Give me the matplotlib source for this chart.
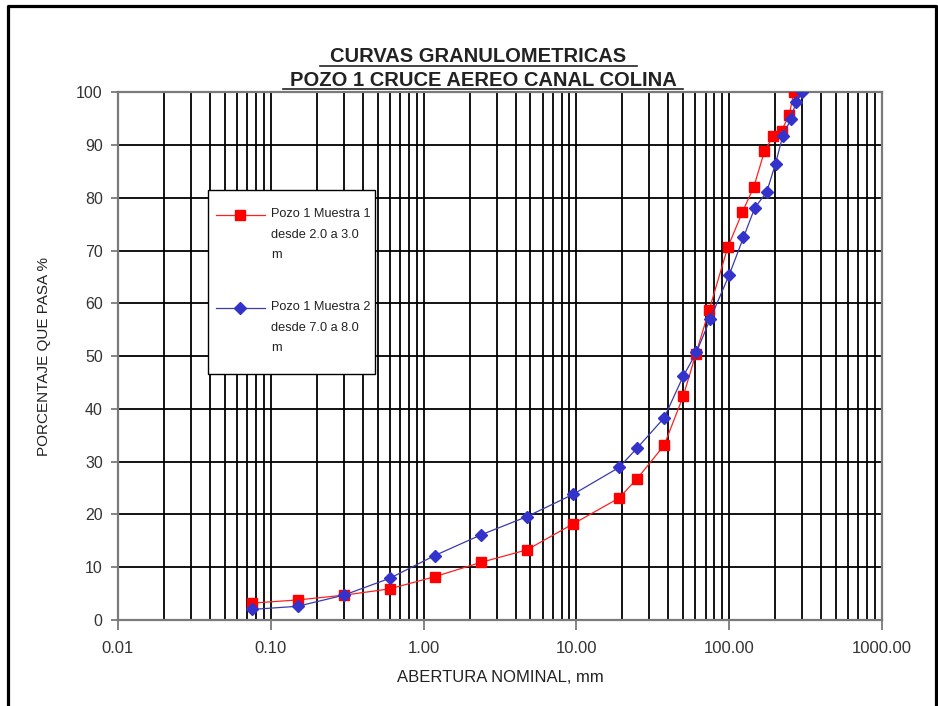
import matplotlib
matplotlib.use("Agg")
import numpy as np
import matplotlib.pyplot as plt
from matplotlib.lines import Line2D
from matplotlib.patches import Rectangle
from matplotlib.legend_handler import HandlerLine2D
from matplotlib.ticker import FixedLocator, NullFormatter, FuncFormatter

# Sieve openings (mm) and percent passing for each sample
m1_size = [0.075, 0.15, 0.3, 0.6, 1.18, 2.36, 4.75, 9.5, 19, 25, 37.5,
           50, 60.6, 74, 97.8, 122, 145, 170, 194, 220, 247, 265]
m1_pass = [3.2, 3.8, 4.7, 5.9, 8.2, 10.9, 13.3, 18.2, 23.1, 26.8, 33.1,
           42.4, 50.5, 58.8, 70.6, 77.3, 82.1, 88.8, 91.7, 92.7, 95.7, 100]

m2_size = [0.075, 0.15, 0.3, 0.6, 1.18, 2.36, 4.75, 9.5, 19, 25, 37.5,
           50, 61, 75, 100, 124, 147, 176, 201, 224, 253, 274, 298]
m2_pass = [2.0, 2.6, 4.7, 7.9, 12.2, 16.1, 19.6, 23.8, 28.9, 32.6, 38.3,
           46.2, 50.7, 57.0, 65.4, 72.5, 78.1, 81.1, 86.5, 91.7, 94.9, 98.2, 100]

labels = ["Pozo 1 Muestra 1\ndesde 2.0 a 3.0\nm",
          "Pozo 1 Muestra 2\ndesde 7.0 a 8.0\nm"]

x_ticks = [0.01, 0.1, 1, 10, 100, 1000]
y_ticks = list(range(0, 101, 10))

plt.rcParams["font.family"] = ["Liberation Sans", "DejaVu Sans"]


class FirstLineHandler(HandlerLine2D):
    """Legend handle drawn level with the first line of a multi-line label."""

    def __init__(self, shift, **kw):
        super().__init__(**kw)
        self.shift = shift

    def create_artists(self, legend, orig_handle, xdescent, ydescent,
                       width, height, fontsize, trans):
        arts = super().create_artists(legend, orig_handle, xdescent, ydescent,
                                      width, height, fontsize, trans)
        for a in arts:
            a.set_ydata(np.asarray(a.get_ydata(), float) + self.shift)
        return arts


W, H = 938, 706
fig = plt.figure(figsize=(W / 100, H / 100), dpi=100)
fig.patch.set_facecolor("white")

L, R, T, B = 118, 882, 92.3, 620
ax = fig.add_axes([L / W, 1 - B / H, (R - L) / W, (B - T) / H])

ax.set_xscale("log")
ax.set_xlim(0.01, 1000)
ax.set_ylim(0, 100)

# log grid: major decades plus 2..9 subdivisions, all in black
minors = [m * 10.0 ** e for e in range(-2, 3) for m in range(2, 10)]
ax.xaxis.set_major_locator(FixedLocator(x_ticks))
ax.xaxis.set_minor_locator(FixedLocator(minors))
ax.xaxis.set_minor_formatter(NullFormatter())
ax.xaxis.set_major_formatter(FuncFormatter(lambda v, p: f"{v:.2f}"))
ax.yaxis.set_major_locator(FixedLocator(y_ticks))

ax.grid(True, which="major", color="black", lw=1.3)
ax.grid(True, which="minor", axis="x", color="black", lw=1.3)
ax.set_axisbelow(True)

for s in ax.spines.values():
    s.set_color("#7a7a7a")
    s.set_linewidth(1.6)

ax.tick_params(axis="x", which="major", direction="out", length=7, width=1.3,
               color="#7a7a7a", labelsize=12, labelcolor="#333333", pad=8)
ax.tick_params(axis="x", which="minor", length=0)
ax.tick_params(axis="y", which="major", direction="out", length=5, width=1.3,
               color="#7a7a7a", labelsize=11.5, labelcolor="#333333", pad=6)

l1, = ax.plot(m1_size, m1_pass, color="#ff2020", lw=0.9, marker="s", ms=7.5,
              mfc="#ff0000", mec="#ff0000", zorder=3)
l2, = ax.plot(m2_size, m2_pass, color="#3a3ab0", lw=0.9, marker="D", ms=6,
              mfc="#3333cc", mec="#3333cc", zorder=4)

ax.set_xlabel("ABERTURA NOMINAL, mm", fontsize=12, color="#222222", labelpad=10)
ax.set_ylabel("PORCENTAJE QUE PASA %", fontsize=11, color="#222222",
              labelpad=18)

# legend box: white panel with a thin black border, entries placed inside it
fig.add_artist(Rectangle((208 / W, 1 - 374 / H), (375 - 208) / W,
                         (374 - 190) / H, transform=fig.transFigure,
                         facecolor="white", edgecolor="black", lw=1.0,
                         zorder=5))
line_step = 14.4  # one text line, in points
leg = fig.legend([l1, l2], labels, loc="upper left",
                 bbox_to_anchor=(216 / W, 1 - 208 / H),
                 bbox_transform=fig.transFigure, fontsize=9.2, frameon=False,
                 borderpad=0, labelspacing=3.13, handlelength=3.8,
                 handletextpad=0.5, borderaxespad=0,
                 handler_map={Line2D: FirstLineHandler(line_step)})
leg.set_zorder(6)
for t in leg.get_texts():
    t.set_linespacing(1.95)
    t.set_color("#222222")

fig.text(0.51, 1 - 57 / H, "CURVAS GRANULOMETRICAS", ha="center", va="center",
         fontsize=14.5, fontweight="bold", color="#222222")
fig.text(0.515, 1 - 80 / H, "POZO 1 CRUCE AEREO CANAL COLINA", ha="center",
         va="center", fontsize=14.5, fontweight="bold", color="#222222")
# underlines beneath the two title lines
fig.add_artist(Line2D([320 / W, 637 / W], [1 - 66 / H, 1 - 66 / H],
                      color="#222222", lw=1.2))
fig.add_artist(Line2D([283 / W, 683 / W], [1 - 89 / H, 1 - 89 / H],
                      color="#222222", lw=1.2))

# outer frame of the sheet
fig.add_artist(Line2D([7.5 / W, 7.5 / W, 935.5 / W, 935.5 / W],
                      [0, 1 - 5.5 / H, 1 - 5.5 / H, 0], color="black", lw=2.3))

fig.savefig("out.png", dpi=100)
